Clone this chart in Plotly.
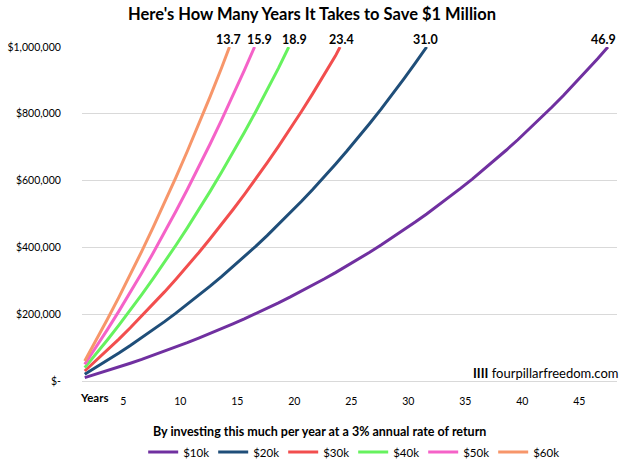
import plotly.graph_objects as go

# values in thousands of dollars, by year; last point is the crossing of $1M
years_10k = list(range(1, 47)) + [46.9]
val_10k = [10, 20.3, 30.9, 41.8, 53.1, 64.7, 76.6, 88.9, 101.6, 114.6, 128.1, 141.9,
           156.2, 170.9, 186.0, 201.6, 217.6, 234.1, 251.2, 268.7, 286.8, 305.4, 324.5,
           344.3, 364.6, 385.5, 407.1, 429.3, 452.2, 475.8, 500.0, 525.0, 550.8, 577.3,
           604.6, 632.8, 661.7, 691.6, 722.3, 754.0, 786.6, 820.2, 854.8, 890.5, 927.2,
           965.0, 1000]
years_20k = list(range(1, 31)) + [31.0]
val_20k = [20, 40.6, 61.8, 83.7, 106.2, 129.4, 153.3, 177.8, 203.2, 229.3, 256.2, 283.8,
           312.4, 341.7, 372.0, 403.1, 435.2, 468.3, 502.3, 537.4, 573.5, 610.7, 649.1,
           688.5, 729.2, 771.1, 814.2, 858.6, 904.4, 951.5, 1000]
years_30k = list(range(1, 24)) + [23.4]
val_30k = [30, 60.9, 92.7, 125.5, 159.3, 194.1, 229.9, 266.8, 304.8, 343.9, 384.2, 425.8,
           468.5, 512.6, 558.0, 604.7, 652.8, 702.4, 753.5, 806.1, 860.3, 916.1, 973.6, 1000]
years_40k = list(range(1, 19)) + [18.9]
val_40k = [40, 81.2, 123.6, 167.3, 212.4, 258.7, 306.5, 355.7, 406.4, 458.6, 512.3, 567.7,
           624.7, 683.5, 744.0, 806.3, 870.5, 936.6, 1000]
years_50k = list(range(1, 16)) + [15.9]
val_50k = [50, 101.5, 154.5, 209.2, 265.5, 323.4, 383.1, 444.6, 508.0, 573.2, 640.4, 709.6,
           780.9, 854.3, 929.9, 1000]
years_60k = list(range(1, 14)) + [13.7]
val_60k = [60, 121.8, 185.5, 251.0, 318.5, 388.1, 459.8, 533.5, 609.5, 687.8, 768.5, 851.5,
           937.1, 1000]

series_names = ["$10k", "$20k", "$30k", "$40k", "$50k", "$60k"]
end_labels = ["46.9", "31.0", "23.4", "18.9", "15.9", "13.7"]
x_ticks = [5, 10, 15, 20, 25, 30, 35, 40, 45]
y_ticks = [0, 200, 400, 600, 800, 1000]
y_tick_text = ["$-", "$200,000", "$400,000", "$600,000", "$800,000", "$1,000,000"]

colors = ["#7030A0", "#1F4E79", "#F24E4E", "#66F25E", "#F562C8", "#F7966A"]
label_xshift = [-4, -1, 1, 6, 5, -1]
xs = [years_10k, years_20k, years_30k, years_40k, years_50k, years_60k]
ys = [val_10k, val_20k, val_30k, val_40k, val_50k, val_60k]

FONT = "Lato"
fig = go.Figure()
for name, x, y, c, lab, dx in zip(series_names, xs, ys, colors, end_labels, label_xshift):
    fig.add_trace(go.Scatter(x=x, y=y, mode="lines", name=name,
                             line=dict(color=c, width=3)))
    fig.add_annotation(x=x[-1], y=y[-1], text="<b>%s</b>" % lab, showarrow=False,
                       yanchor="bottom", yshift=-2, xshift=dx,
                       font=dict(family=FONT, size=12.5, color="#000000"))

fig.add_annotation(xref="paper", yref="paper", x=0, y=0, xanchor="left", yanchor="top",
                   xshift=-4, yshift=-8, text="<b>Years</b>", showarrow=False,
                   font=dict(family=FONT, size=11.5, color="#000"))
fig.add_annotation(xref="paper", yref="paper", x=1, y=0, xanchor="right", yanchor="bottom",
                   xshift=4, yshift=-2, text="<b>IIII</b> fourpillarfreedom.com", showarrow=False,
                   font=dict(family=FONT, size=13, color="#000"))
fig.add_annotation(xref="paper", yref="paper", x=(314 - 73) / 544, y=(381 - 431) / 334,
                   xanchor="center", yanchor="middle",
                   text="<b>By investing this much per year at a 3% annual rate of return</b>",
                   showarrow=False, font=dict(family=FONT, size=12.5, color="#000"))

fig.update_layout(
    width=624, height=463,
    paper_bgcolor="white", plot_bgcolor="white",
    margin=dict(l=73, r=7, t=47, b=82),
    title=dict(text="<b>Here's How Many Years It Takes to Save $1 Million</b>",
               x=0.5, xanchor="center", y=1 - 14 / 463, yanchor="middle",
               font=dict(family=FONT, size=16.5, color="#000")),
    font=dict(family=FONT, size=11, color="#000"),
    showlegend=True,
    legend=dict(orientation="h", xref="container", yref="container", x=0.566,
                xanchor="center", y=1 - 452 / 463, yanchor="middle",
                font=dict(family=FONT, size=11.5, color="#000"),
                itemwidth=30, tracegroupgap=0,
                entrywidth=25, entrywidthmode="pixels"),
)
fig.update_xaxes(range=[0.76, 47.7], tickvals=x_ticks, showgrid=False, zeroline=False,
                 showline=False, ticks="outside", ticklen=10, tickcolor="rgba(0,0,0,0)",
                 ticklabelshift=-7, tickfont=dict(family=FONT, size=10.5))
fig.update_yaxes(range=[0, 1000], tickvals=y_ticks, ticktext=y_tick_text,
                 showgrid=True, gridcolor="#D9D9D9", gridwidth=1,
                 zeroline=True, zerolinecolor="#D9D9D9", zerolinewidth=1,
                 ticks="outside", ticklen=18, tickcolor="rgba(0,0,0,0)",
                 tickfont=dict(family=FONT, size=10.5))
fig.write_html("out.html")
